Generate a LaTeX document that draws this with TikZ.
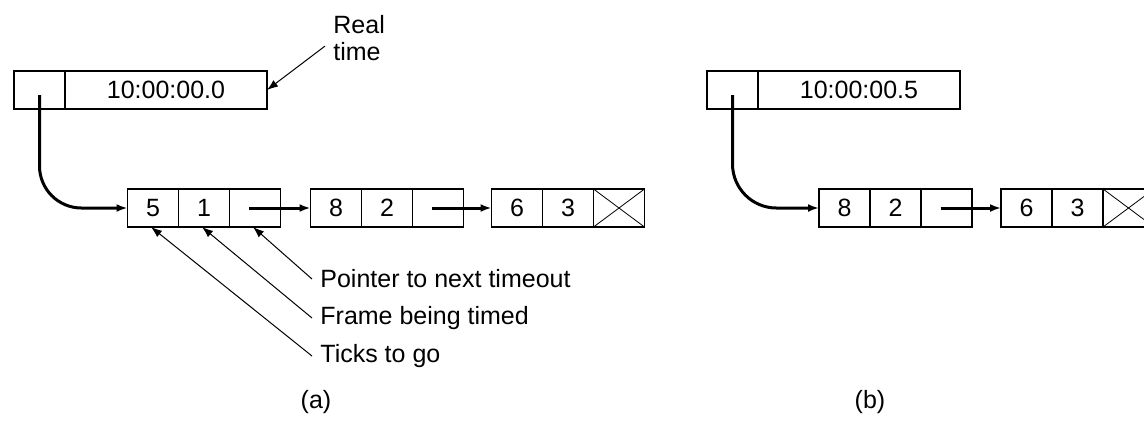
\documentclass[tikz,border=0pt]{standalone}
\usepackage{fontspec}
\setmainfont{Liberation Sans}
\usetikzlibrary{arrows.meta, positioning}
\tikzset{
  cell/.style={
    rectangle,
    draw=black,
    line width=0.6pt,
    minimum width=25.5pt,
    minimum height=19pt,
    inner sep=0pt,
    outer sep=0pt,
    font=\fontsize{12.5}{14}\selectfont
  },
  clockcell/.style={cell, minimum width=101pt},
  note/.style={
    align=left,
    inner sep=4pt,
    font=\fontsize{12.5}{13.5}\selectfont
  },
  ptr/.style={-{Latex[length=5.5pt, width=4pt]}, line width=1.5pt},
  thinptr/.style={-{Latex[length=5.5pt, width=4pt]}, line width=0.5pt},
  nullmark/.style={line width=0.4pt}
}

\begin{document}
\begin{tikzpicture}[x=0.5pt, y=-0.5pt]
  \useasboundingbox (0,0) rectangle (1144,420);

  % (a) clock and timeout list
  \node[cell] (clka) at (39.5,90) {};
  \node[clockcell, right=0pt of clka] (clkta) {10:00:00.0};

  \node[cell] (a11) at (153,208) {5};
  \node[cell, right=0pt of a11] (a12) {1};
  \node[cell, right=0pt of a12] (a13) {};
  \node[cell, right=15pt of a13] (a21) {8};
  \node[cell, right=0pt of a21] (a22) {2};
  \node[cell, right=0pt of a22] (a23) {};
  \node[cell, right=14pt of a23] (a31) {6};
  \node[cell, right=0pt of a31] (a32) {3};
  \node[cell, right=0pt of a32] (a33) {};

  \node[note, anchor=north west] (rt) at (325,7) {Real\\time};
  \node[note, anchor=west] (lptr) at (312,279) {Pointer to next timeout};
  \node[note, anchor=west] (lfrm) at (312,318) {Frame being timed};
  \node[note, anchor=west] (ltck) at (312,356) {Ticks to go};
  \node[note] (capa) at (316,402) {(a)};

  \draw[ptr, rounded corners=21pt] ([yshift=-2.5pt]clka.center) |- (a11.west);
  \draw[ptr] ([xshift=-3pt]a13.center) -- (a21.west);
  \draw[ptr] ([xshift=-3pt]a23.center) -- (a31.west);
  \draw[nullmark] (a33.north west) -- (a33.south east);
  \draw[nullmark] (a33.south west) -- (a33.north east);

  \draw[thinptr] ([yshift=-4pt]rt.west) -- (clkta.east);
  \draw[thinptr] (lptr.west) -- ([xshift=-1pt]a13.south);
  \draw[thinptr] (lfrm.west) -- ([xshift=-1pt]a12.south);
  \draw[thinptr] (ltck.west) -- ([xshift=-1pt]a11.south);

  % (b) half a second later
  \node[cell] (clkb) at (732.5,90) {};
  \node[clockcell, right=0pt of clkb] (clktb) {10:00:00.5};

  \node[cell] (b11) at (844.5,208) {8};
  \node[cell, right=0pt of b11] (b12) {2};
  \node[cell, right=0pt of b12] (b13) {};
  \node[cell, right=14.5pt of b13] (b21) {6};
  \node[cell, right=0pt of b21] (b22) {3};
  \node[cell, right=0pt of b22] (b23) {};

  \node[note] (capb) at (870,402) {(b)};

  \draw[ptr, rounded corners=22pt] ([yshift=-2.5pt]clkb.center) |- (b11.west);
  \draw[ptr] ([xshift=-3pt]b13.center) -- (b21.west);
  \draw[nullmark] (b23.north west) -- (b23.south east);
  \draw[nullmark] (b23.south west) -- (b23.north east);
\end{tikzpicture}
\end{document}
